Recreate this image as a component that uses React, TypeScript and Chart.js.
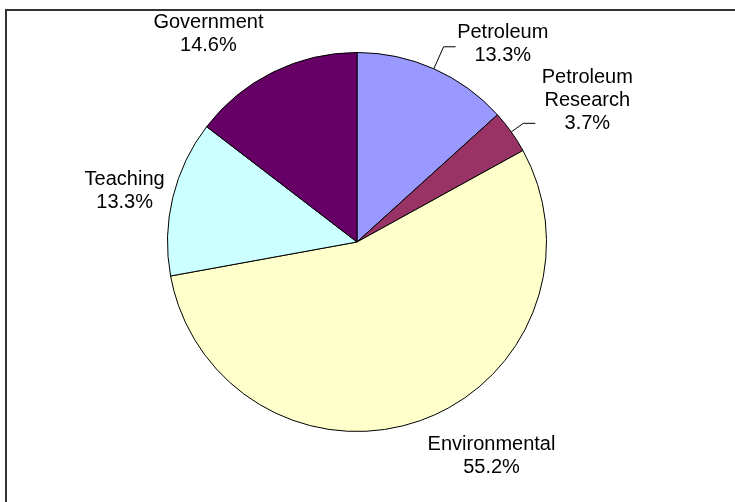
import React, { useEffect, useRef } from "react";
import { Chart, registerables } from "chart.js";

Chart.register(...registerables);

const categories = ["Petroleum", "Petroleum Research", "Environmental", "Teaching", "Government"];
const nameLines = [["Petroleum"], ["Petroleum", "Research"], ["Environmental"], ["Teaching"], ["Government"]];
const shares = [13.3, 3.7, 55.2, 13.3, 14.6];
const percentLabels = ["13.3%", "3.7%", "55.2%", "13.3%", "14.6%"];
const sliceColors = ["#9999FF", "#993366", "#FFFFCC", "#CCFFFF", "#660066"];

// label layout relative to pie: angle (deg clockwise from top), distance in radii
const labelAngle = [36.3, 58.4, 147.8, 282.3, 324.4];
const labelDist = [1.299, 1.427, 1.332, 1.255, 1.347];
// leader lines: elbow distance in radii (0 = none)
const leaderElbow = [1.127, 1.078, 0, 0, 0];

const FONT = '20px "Liberation Sans", Arial, sans-serif';
const LINE_H = 23;

const decorPlugin = {
  id: "decor",
  beforeDraw(chart: any) {
    const ctx = chart.ctx;
    ctx.save();
    ctx.strokeStyle = "#333";
    ctx.lineWidth = 2;
    ctx.beginPath();
    ctx.moveTo(6, chart.height);
    ctx.lineTo(6, 10);
    ctx.lineTo(chart.width, 10);
    ctx.stroke();
    ctx.restore();
  },
  afterDraw(chart: any) {
    const ctx = chart.ctx;
    const meta = chart.getDatasetMeta(0);
    ctx.save();
    ctx.font = FONT;
    ctx.fillStyle = "#000";
    ctx.textAlign = "center";
    ctx.textBaseline = "middle";
    meta.data.forEach((arc: any, i: number) => {
      const { x, y, outerRadius, startAngle, endAngle } = arc.getProps(
        ["x", "y", "outerRadius", "startAngle", "endAngle"],
        true
      );
      const mid = (startAngle + endAngle) / 2;
      if (leaderElbow[i] > 0) {
        const sx = x + Math.cos(mid) * outerRadius;
        const sy = y + Math.sin(mid) * outerRadius;
        const ex = x + Math.cos(mid) * outerRadius * leaderElbow[i];
        const ey = y + Math.sin(mid) * outerRadius * leaderElbow[i];
        ctx.strokeStyle = "#000";
        ctx.lineWidth = 1;
        ctx.beginPath();
        ctx.moveTo(sx, sy);
        ctx.lineTo(ex, ey);
        ctx.lineTo(ex + 12, ey);
        ctx.stroke();
      }
      const a = (labelAngle[i] * Math.PI) / 180;
      const cx = x + Math.sin(a) * outerRadius * labelDist[i];
      const cy = y - Math.cos(a) * outerRadius * labelDist[i];
      const lines = [...nameLines[i], percentLabels[i]];
      const top = cy - ((lines.length - 1) * LINE_H) / 2;
      lines.forEach((t, j) => ctx.fillText(t, cx, top + j * LINE_H));
    });
    ctx.restore();
  },
};

export default function App() {
  const ref = useRef<HTMLCanvasElement>(null);
  useEffect(() => {
    if (!ref.current) return;
    const chart = new Chart(ref.current, {
      type: "pie",
      data: {
        labels: categories,
        datasets: [
          {
            data: shares,
            backgroundColor: sliceColors,
            borderColor: "#000",
            borderWidth: 1,
          },
        ],
      },
      options: {
        animation: false,
        responsive: false,
        layout: { padding: { left: 167, right: 188, top: 52, bottom: 70 } },
        plugins: { legend: { display: false }, tooltip: { enabled: false } },
      },
      plugins: [decorPlugin],
    });
    return () => chart.destroy();
  }, []);
  return (
    <div style={{ position: "fixed", left: 0, top: 0, width: 735, height: 502, background: "#fff" }}>
      <canvas ref={ref} width={735} height={502} style={{ width: 735, height: 502 }} />
    </div>
  );
}
